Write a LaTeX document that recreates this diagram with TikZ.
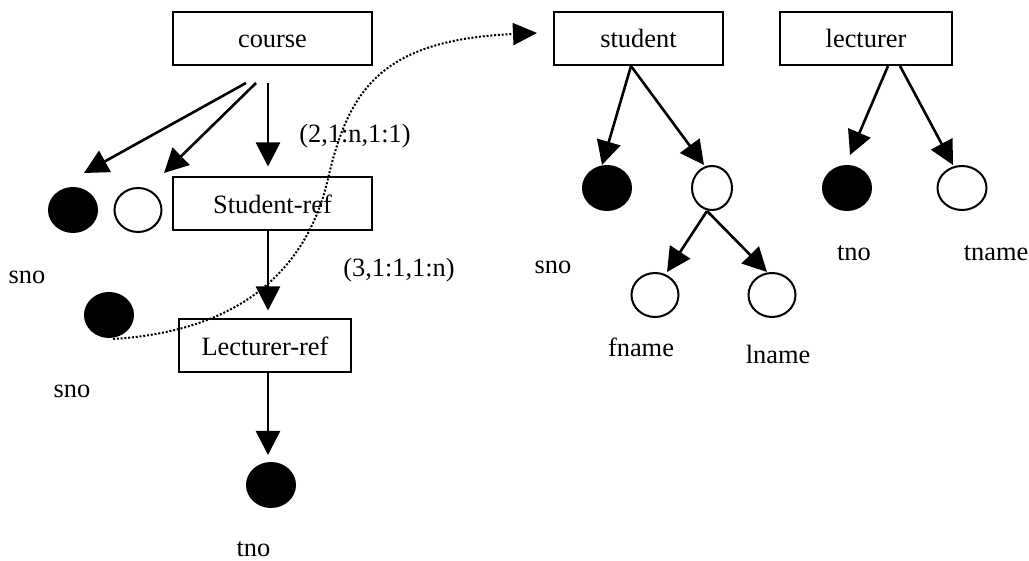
\documentclass[tikz,border=0pt]{standalone}
\usepackage{fontspec}
\setmainfont{Liberation Serif}
\usetikzlibrary{arrows.meta,shapes.geometric,calc}
\begin{document}
\begin{tikzpicture}[x=0.5pt,y=-0.5pt,
  every node/.style={font=\fontsize{13.2}{15}\selectfont},
  box/.style={draw,line width=1pt,rectangle,inner sep=0pt,minimum width=99.5pt,minimum height=26.5pt,
    text height=10.6pt,text depth=1.3pt},
  key/.style={ellipse,draw,fill=black,line width=1pt,inner sep=0pt,minimum width=24pt,minimum height=22pt},
  attr/.style={ellipse,draw,fill=white,line width=1pt,inner sep=0pt,minimum width=23.5pt,minimum height=22pt},
  lbl/.style={anchor=base,inner sep=0pt},
  arr/.style={line width=1.3pt,-{Triangle[length=12pt,width=12pt]}},
  link/.style={line width=1pt,dash pattern=on 1pt off 0.9pt,-{Triangle[length=12pt,width=11pt]}}
]
\useasboundingbox (0,0) rectangle (1029,561);

% entity boxes
\node[box] (course) at (272.5,38.5) {course};
\node[box] (sref) at (272.5,204) {Student-ref};
\node[box,minimum width=86pt] (lref) at (265,346) {Lecturer-ref};
\node[box,minimum width=84.5pt] (student) at (638.5,38.5) {student};
\node[box,minimum width=86pt] (lecturer) at (866,38.5) {lecturer};

% key (filled) and plain attributes
\node[key] (csno) at (73,210) {};
\node[attr] (cattr) at (138,210) {};
\node[key] (rsno) at (109,315) {};
\node[key] (rtno) at (271,485) {};
\node[key] (ssno) at (607,188) {};
\node[attr,minimum width=20pt] (sname) at (712,188) {};
\node[attr] (sfname) at (655,295) {};
\node[attr] (slname) at (772,295) {};
\node[key] (ltno) at (847,188) {};
\node[attr,minimum width=24.5pt] (ltname) at (962,188) {};

% labels
\node[lbl] (t1) at (27,284) {sno};
\node[lbl] (t2) at (72,398) {sno};
\node[lbl] (t3) at (253.5,556) {tno};
\node[lbl] (c1) at (355,143) {(2,1:n,1:1)};
\node[lbl] (c2) at (399,277) {(3,1:1,1:n)};
\node[lbl] (t4) at (553,274) {sno};
\node[lbl] (t5) at (641,357) {fname};
\node[lbl] (t6) at (778,364) {lname};
\node[lbl] (t7) at (854,261) {tno};
\node[lbl] (t8) at (996,261) {tname};

% hierarchy arrows
\draw[arr] ($(course.south)+(-26.5,17)$) -- ($(csno.center)+(11,-37)$);
\draw[arr] ($(course.south)+(-16.5,17)$) -- ($(cattr.center)+(26,-37)$);
\draw[arr] ($(course.south)+(-4.5,17)$) -- ($(sref.north)+(-4.5,-10)$);
\draw[arr] ($(sref.south)+(-4.5,0)$) -- ($(lref.north)+(3,-8)$);
\draw[arr] ($(lref.south)+(3,0)$) -- ($(rtno.center)+(-3,-30)$);
\draw[arr] ($(student.south)+(-7.5,0)$) -- ($(ssno.north)+(-5,0)$);
\draw[arr] ($(student.south)+(-7.5,0)$) -- ($(sname.north)+(-8,0)$);
\draw[arr] ($(sname.south)+(-5,0)$) -- ($(sfname.north)+(12,0)$);
\draw[arr] ($(sname.south)+(-5,0)$) -- ($(slname.north)+(-5,0)$);
\draw[arr] ($(lecturer.south)+(22,0)$) -- ($(ltno.center)+(3,-33)$);
\draw[arr] ($(lecturer.south)+(34,0)$) -- ($(ltname.north)+(-9,0)$);

% reference link
\draw[link] ($(rsno.south)+(4,1)$) .. controls (260,330) and (310,251) .. (327,183)
  .. controls (348,90) and (380,40) .. ($(student.west)+(-16,-5.5)$);
\end{tikzpicture}
\end{document}
